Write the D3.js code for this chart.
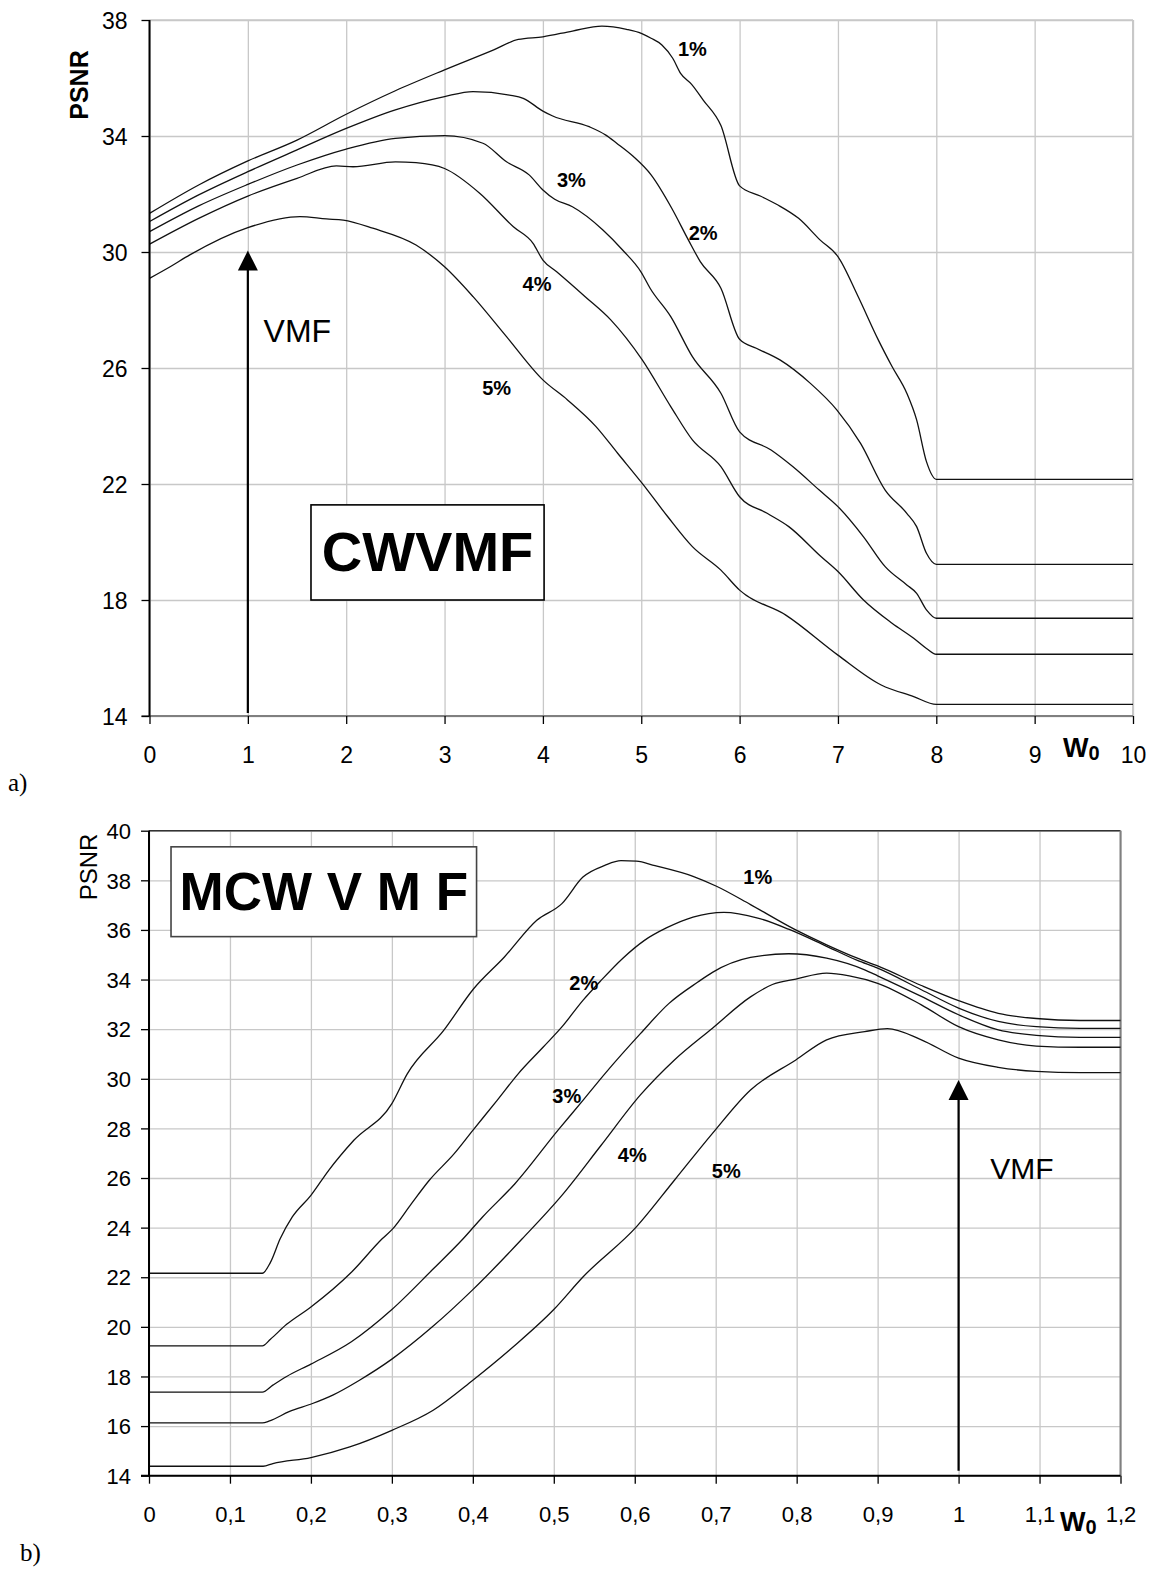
<!DOCTYPE html>
<html>
<head>
<meta charset="utf-8">
<script src="https://cdn.jsdelivr.net/npm/d3@7"></script>
<style>
body{margin:0;background:#fff}
svg text{font-family:"Liberation Sans",Arial,sans-serif;fill:#000}
</style>
</head>
<body>
<svg id="fig" width="1157" height="1573"></svg>
<script>
// ---- panel a) CWVMF, PSNR vs w0 (0..10) ----
var cwTicksX = [0,1,2,3,4,5,6,7,8,9,10];
var cwTicksY = [14,18,22,26,30,34,38];
var cwNames = ["1%","2%","3%","4%","5%"];
var cw1 = [[0,31.33],[0.5,32.31],[1,33.14],[1.5,33.86],[2,34.75],[2.5,35.56],[3,36.28],[3.5,36.97],[3.75,37.33],[4,37.42],[4.3,37.62],[4.6,37.79],[4.85,37.68],[5,37.54],[5.1,37.37],[5.21,37.14],[5.32,36.68],[5.4,36.16],[5.51,35.79],[5.63,35.24],[5.81,34.36],[6,32.28],[6.21,31.93],[6.39,31.62],[6.6,31.16],[6.82,30.41],[7,29.84],[7.2,28.5],[7.41,26.97],[7.55,26.05],[7.7,25.13],[7.8,24.21],[7.9,22.77],[8,22.16],[10,22.16]];
var cw2 = [[0,31.05],[0.5,31.97],[1,32.77],[1.5,33.52],[2,34.26],[2.5,34.9],[3,35.36],[3.29,35.53],[3.66,35.41],[3.8,35.3],[4,34.86],[4.1,34.69],[4.47,34.32],[4.64,34.03],[4.75,33.75],[4.92,33.29],[5.1,32.66],[5.31,31.51],[5.48,30.41],[5.6,29.67],[5.81,28.75],[6,26.99],[6.17,26.68],[6.41,26.28],[6.72,25.47],[6.99,24.55],[7.23,23.4],[7.48,21.79],[7.7,20.99],[7.8,20.53],[7.9,19.61],[8,19.23],[10,19.23]];
var cw3 = [[0,30.7],[0.5,31.59],[1,32.33],[1.5,33],[2,33.55],[2.5,33.92],[3,34.01],[3.39,33.75],[3.63,33.11],[3.86,32.66],[4,32.14],[4.12,31.82],[4.3,31.56],[4.61,30.76],[4.81,30.07],[5,29.3],[5.09,28.75],[5.3,27.77],[5.52,26.39],[5.81,25.13],[6,23.8],[6.32,23.17],[6.54,22.6],[6.81,21.79],[7,21.22],[7.26,20.18],[7.48,19.15],[7.7,18.52],[7.8,18.23],[7.9,17.66],[8,17.37],[10,17.37]];
var cw4 = [[0,30.27],[0.5,31.16],[1,31.93],[1.5,32.54],[1.9,32.97],[2.07,32.94],[2.5,33.11],[2.71,33.08],[3,32.88],[3.36,32.02],[3.7,30.87],[3.9,30.3],[4,29.72],[4.14,29.32],[4.43,28.46],[4.69,27.66],[5.01,26.28],[5.3,24.67],[5.52,23.52],[5.81,22.6],[6,21.56],[6.28,20.99],[6.5,20.53],[6.83,19.49],[7,18.98],[7.26,18],[7.55,17.2],[7.77,16.68],[7.9,16.33],[8,16.13],[10,16.13]];
var cw5 = [[0,29.09],[0.21,29.49],[0.41,29.9],[1,30.84],[1.53,31.22],[1.8,31.14],[1.97,31.1],[2.27,30.82],[2.71,30.24],[3,29.49],[3.29,28.46],[3.63,27.08],[4,25.59],[4.25,24.9],[4.54,23.98],[4.76,23.06],[5.01,22.02],[5.27,20.87],[5.52,19.84],[5.81,19.03],[6,18.34],[6.47,17.48],[7,16.1],[7.44,15.07],[7.77,14.67],[8,14.4],[10,14.4]];
var cwLabelPos = [[5.52,37.0],[5.63,30.66],[4.29,32.48],[3.94,28.89],[3.53,25.32]];

// ---- panel b) MCWVMF, PSNR vs w0 (0..1.2) ----
var mcTicksX = [0,0.1,0.2,0.3,0.4,0.5,0.6,0.7,0.8,0.9,1,1.1,1.2];
var mcTicksY = [14,16,18,20,22,24,26,28,30,32,34,36,38,40];
var mc1 = [[0,22.16],[0.14,22.16],[0.15,22.6],[0.162,23.55],[0.177,24.43],[0.2,25.3],[0.222,26.31],[0.253,27.52],[0.3,29],[0.319,30.2],[0.364,31.95],[0.401,33.63],[0.439,34.91],[0.479,36.39],[0.51,37.06],[0.536,38.13],[0.563,38.6],[0.583,38.79],[0.602,38.77],[0.625,38.59],[0.672,38.16],[0.701,37.76],[0.743,37.02],[0.797,36.03],[0.837,35.4],[0.875,34.86],[0.9,34.55],[0.954,33.76],[1,33.15],[1.049,32.64],[1.096,32.43],[1.15,32.35],[1.2,32.35]];
var mc2 = [[0,19.23],[0.14,19.23],[0.15,19.5],[0.17,20.1],[0.2,20.8],[0.25,22.2],[0.288,23.55],[0.301,23.95],[0.324,24.96],[0.346,25.9],[0.377,26.98],[0.4,27.92],[0.43,29.13],[0.456,30.2],[0.487,31.28],[0.51,32.09],[0.536,33.16],[0.558,33.95],[0.585,34.85],[0.612,35.58],[0.639,36.08],[0.672,36.52],[0.71,36.71],[0.752,36.48],[0.79,36.03],[0.837,35.34],[0.875,34.77],[0.9,34.46],[0.954,33.59],[1,32.85],[1.049,32.31],[1.096,32.1],[1.15,32.03],[1.2,32.03]];
var mc3 = [[0,17.37],[0.14,17.37],[0.153,17.65],[0.17,18],[0.2,18.5],[0.25,19.4],[0.3,20.7],[0.35,22.3],[0.388,23.55],[0.412,24.43],[0.452,25.77],[0.505,27.92],[0.536,29.13],[0.563,30.2],[0.607,31.82],[0.642,33.03],[0.678,33.9],[0.696,34.29],[0.743,34.89],[0.79,35.04],[0.837,34.86],[0.884,34.39],[0.9,34.15],[0.954,33.32],[1,32.58],[1.049,31.97],[1.096,31.75],[1.15,31.67],[1.2,31.67]];
var mc4 = [[0,16.13],[0.14,16.13],[0.149,16.21],[0.173,16.58],[0.202,16.91],[0.227,17.25],[0.26,17.85],[0.3,18.7],[0.35,20],[0.4,21.5],[0.461,23.55],[0.51,25.3],[0.558,27.3],[0.607,29.35],[0.649,30.76],[0.696,32.04],[0.743,33.3],[0.77,33.8],[0.799,34.02],[0.837,34.26],[0.865,34.15],[0.9,33.85],[0.954,32.98],[1,32.1],[1.049,31.57],[1.096,31.32],[1.15,31.27],[1.2,31.27]];
var mc5 = [[0,14.38],[0.141,14.38],[0.153,14.49],[0.2,14.73],[0.248,15.16],[0.3,15.83],[0.351,16.64],[0.4,17.85],[0.45,19.2],[0.5,20.7],[0.536,22.01],[0.602,24.03],[0.649,25.91],[0.696,27.8],[0.743,29.55],[0.799,30.76],[0.837,31.57],[0.884,31.9],[0.912,32.02],[0.954,31.57],[1,30.83],[1.049,30.46],[1.096,30.3],[1.15,30.25],[1.2,30.25]];
var mcLabelPos = [[0.752,38.15],[0.537,33.85],[0.516,29.3],[0.597,26.92],[0.713,26.29]];

var svg = d3.select("#fig");

function drawPanel(p) {
  var x = d3.scaleLinear().domain(p.xDom).range(p.xRange);
  var y = d3.scaleLinear().domain(p.yDom).range(p.yRange);
  var g = svg.append("g");
  var left = p.xRange[0], right = p.xRange[1], top = p.yRange[1], bottom = p.yRange[0];

  // grid
  g.append("g").attr("transform", "translate(0," + bottom + ")")
    .call(d3.axisBottom(x).tickValues(p.xTicks).tickSize(-(bottom - top)).tickFormat(""))
    .call(function(s){ s.select(".domain").remove(); s.selectAll("line").attr("stroke", "#c8c8c8").attr("stroke-width", 1.3); });
  g.append("g").attr("transform", "translate(" + left + ",0)")
    .call(d3.axisLeft(y).tickValues(p.yTicks).tickSize(-(right - left)).tickFormat(""))
    .call(function(s){ s.select(".domain").remove(); s.selectAll("line").attr("stroke", "#c8c8c8").attr("stroke-width", 1.3); });

  // frame
  g.append("line").attr("x1", left).attr("x2", right).attr("y1", top).attr("y2", top)
    .attr("stroke", p.topColor).attr("stroke-width", 1.5);
  g.append("line").attr("x1", right).attr("x2", right).attr("y1", top).attr("y2", bottom)
    .attr("stroke", p.rightColor).attr("stroke-width", 2);

  // series
  var line = d3.line().x(function(d){ return x(d[0]); }).y(function(d){ return y(d[1]); }).curve(d3.curveMonotoneX);
  g.append("g").selectAll("path").data(p.series).enter().append("path")
    .attr("d", line).attr("fill", "none").attr("stroke", "#111").attr("stroke-width", 1.3);

  // axes
  var ax = g.append("g").attr("transform", "translate(0," + bottom + ")")
    .call(d3.axisBottom(x).tickValues(p.xTicks).tickSize(8).tickPadding(23).tickFormat(p.fmt));
  ax.select(".domain").attr("stroke", p.bottomColor).attr("stroke-width", 2).attr("d", "M" + (left - 8) + ",0H" + right);
  ax.selectAll("line").attr("stroke", "#000").attr("stroke-width", 1.3);
  ax.selectAll("text").style("font-size", p.fs + "px");

  var ay = g.append("g").attr("transform", "translate(" + left + ",0)")
    .call(d3.axisLeft(y).tickValues(p.yTicks).tickSize(8).tickPadding(p.yPad));
  ay.select(".domain").attr("stroke", "#000").attr("stroke-width", 2).attr("d", "M0," + top + "V" + bottom);
  ay.selectAll("line").attr("stroke", "#000").attr("stroke-width", 1.3);
  ay.selectAll("text").style("font-size", p.fs + "px").attr("dy", "0.35em");

  // series labels
  g.append("g").selectAll("text").data(p.labelPos).enter().append("text")
    .attr("x", function(d){ return x(d[0]); }).attr("y", function(d){ return y(d[1]); })
    .attr("dy", "0.36em").attr("text-anchor", "middle")
    .style("font-size", "20px").style("font-weight", "bold")
    .text(function(d, i){ return cwNames[i]; });

  // VMF arrow
  var ax0 = x(p.arrow[0]);
  g.append("line").attr("x1", ax0).attr("x2", ax0).attr("y1", y(p.arrow[2])).attr("y2", y(p.arrow[1]) + 18)
    .attr("stroke", "#000").attr("stroke-width", 2.2);
  g.append("path")
    .attr("d", "M" + ax0 + "," + y(p.arrow[1]) + "L" + (ax0 - 10) + "," + (y(p.arrow[1]) + 20) + "L" + (ax0 + 10) + "," + (y(p.arrow[1]) + 20) + "Z")
    .attr("fill", "#000");
  g.append("text").attr("x", x(p.vmf[0])).attr("y", y(p.vmf[1]))
    .style("font-size", p.vmfSize + "px").text("VMF");

  // method box
  g.append("rect").attr("x", x(p.box[0])).attr("y", y(p.box[3]))
    .attr("width", x(p.box[1]) - x(p.box[0])).attr("height", y(p.box[2]) - y(p.box[3]))
    .attr("fill", "#fff").attr("stroke", p.boxStroke).attr("stroke-width", 1.6);
  g.append("text").attr("x", (x(p.box[0]) + x(p.box[1])) / 2).attr("y", p.boxBase)
    .attr("text-anchor", "middle").style("font-size", p.boxSize + "px").style("font-weight", "bold")
    .text(p.boxText);

  // axis titles
  g.append("text").attr("transform", "translate(" + p.ylab[0] + "," + p.ylab[1] + ") rotate(-90)")
    .attr("text-anchor", "middle").style("font-size", p.ylabSize + "px").style("font-weight", p.ylabWeight)
    .text("PSNR");
  var w = g.append("text").attr("x", p.wlab[0]).attr("y", p.wlab[1]).style("font-weight", "bold");
  w.append("tspan").style("font-size", "27px").text("W");
  w.append("tspan").attr("dy", 3).style("font-size", "20px").text("0");

  // panel letter
  g.append("text").attr("x", p.letter[0]).attr("y", p.letter[1])
    .style("font-family", "'Liberation Serif','Times New Roman',serif").style("font-size", "25px")
    .text(p.letter[2]);
}

drawPanel({
  xDom: [0, 10], xRange: [149.5, 1133], yDom: [14, 38], yRange: [716, 20],
  xTicks: cwTicksX, yTicks: cwTicksY, fmt: d3.format("d"), fs: 23, yPad: 14,
  series: [cw1, cw2, cw3, cw4, cw5], labelPos: cwLabelPos,
  topColor: "#c8c8c8", rightColor: "#c8c8c8", bottomColor: "#808080",
  arrow: [1, 30.05, 14.1], vmf: [1.16, 26.9], vmfSize: 32,
  box: [1.642, 4.012, 18.0, 21.28], boxStroke: "#000", boxText: "CWVMF", boxSize: 56, boxBase: 571,
  ylab: [88, 85], ylabSize: 25, ylabWeight: "bold",
  wlab: [1063, 757], letter: [8, 791, "a)"]
});

drawPanel({
  xDom: [0, 1.2], xRange: [149, 1120.5], yDom: [14, 40], yRange: [1475.7, 830.7],
  xTicks: mcTicksX, yTicks: mcTicksY, fmt: function(d){ return String(d).replace(".", ","); }, fs: 22, yPad: 10,
  series: [mc1, mc2, mc3, mc4, mc5], labelPos: mcLabelPos,
  topColor: "#333", rightColor: "#808080", bottomColor: "#000",
  arrow: [1, 29.95, 14.2], vmf: [1.039, 25.96], vmfSize: 30,
  box: [0.0272, 0.4046, 35.73, 39.35], boxStroke: "#444", boxText: "MCW V M F", boxSize: 53, boxBase: 910,
  ylab: [97, 867], ylabSize: 24, ylabWeight: "normal",
  wlab: [1060, 1531], letter: [20, 1561, "b)"]
});
</script>
</body>
</html>
